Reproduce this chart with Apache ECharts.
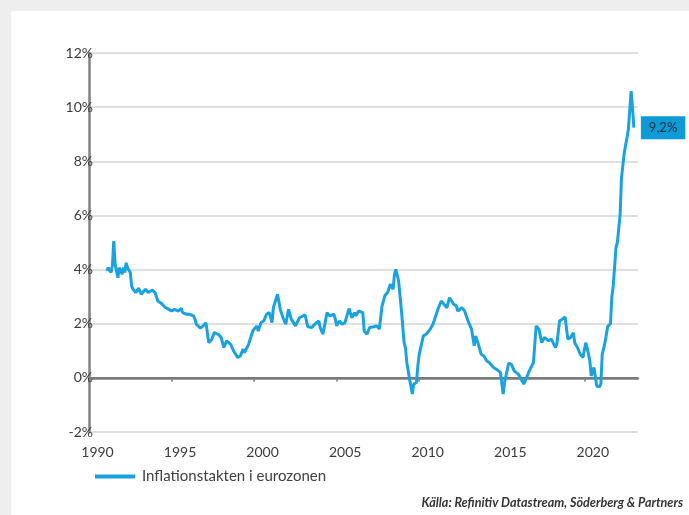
<!DOCTYPE html>
<html>
<head>
<meta charset="utf-8">
<script src="https://cdn.jsdelivr.net/npm/echarts@6/dist/echarts.min.js"></script>
<style>html,body{margin:0;padding:0;background:#efeeee;}#c{width:689px;height:515px;}</style>
</head>
<body>
<div id="c"></div>
<script>
const dates = ["1991-01","1991-02","1991-04","1991-05","1991-06","1991-07","1991-09","1991-10","1991-12","1992-01","1992-02","1992-03","1992-04","1992-06","1992-07","1992-08","1992-10","1992-12","1993-02","1993-05","1993-07","1993-10","1993-12","1994-02","1994-05","1994-07","1994-10","1994-12","1995-02","1995-05","1995-07","1995-08","1995-11","1996-01","1996-04","1996-05","1996-06","1996-09","1996-11","1997-01","1997-03","1997-05","1997-07","1997-10","1997-12","1998-02","1998-04","1998-07","1998-09","1998-12","1999-02","1999-04","1999-05","1999-08","1999-11","2000-02","2000-03","2000-05","2000-07","2000-09","2000-11","2001-01","2001-02","2001-05","2001-07","2001-09","2001-11","2002-01","2002-03","2002-06","2002-09","2003-01","2003-03","2003-06","2003-08","2003-11","2003-12","2004-02","2004-05","2004-07","2004-10","2004-11","2004-12","2005-02","2005-04","2005-06","2005-09","2005-11","2006-01","2006-02","2006-04","2006-07","2006-08","2006-10","2006-12","2007-03","2007-05","2007-07","2007-09","2007-11","2008-01","2008-03","2008-05","2008-06","2008-07","2008-08","2008-09","2008-11","2009-01","2009-02","2009-03","2009-05","2009-07","2009-08","2009-10","2009-11","2009-12","2010-01","2010-03","2010-05","2010-06","2010-08","2010-10","2010-12","2011-02","2011-04","2011-06","2011-08","2011-10","2011-11","2012-01","2012-03","2012-04","2012-07","2012-09","2012-11","2012-12","2013-02","2013-04","2013-05","2013-07","2013-09","2013-11","2014-01","2014-03","2014-06","2014-08","2014-11","2015-01","2015-02","2015-05","2015-07","2015-09","2015-10","2015-12","2016-01","2016-04","2016-06","2016-08","2016-11","2017-01","2017-03","2017-05","2017-07","2017-10","2017-12","2018-03","2018-04","2018-06","2018-08","2018-10","2018-12","2019-02","2019-04","2019-05","2019-07","2019-09","2019-11","2020-01","2020-02","2020-04","2020-05","2020-07","2020-09","2020-11","2020-12","2021-01","2021-02","2021-03","2021-04","2021-05","2021-06","2021-07","2021-08","2021-09","2021-11","2021-12","2022-01","2022-02","2022-03","2022-04","2022-05","2022-06","2022-07","2022-08","2022-09","2022-10","2022-11","2022-12"];
const inflation = [3.95,4.07,3.89,4.15,5.05,4.2,3.7,4.07,3.83,4.07,3.89,4.25,4.07,3.89,3.39,3.27,3.15,3.31,3.09,3.27,3.15,3.24,3.15,2.84,2.74,2.62,2.53,2.47,2.53,2.47,2.57,2.41,2.35,2.35,2.29,2.17,1.98,1.84,1.92,2.04,1.30,1.40,1.67,1.61,1.49,1.12,1.37,1.24,1.00,0.75,0.81,1.06,0.93,1.24,1.73,1.92,1.73,2.04,2.10,2.35,2.41,2.04,2.59,3.09,2.53,2.22,1.98,2.53,2.17,1.92,2.22,2.33,1.89,1.86,1.98,2.10,1.86,1.61,2.41,2.29,2.35,2.17,1.92,2.10,1.98,2.04,2.56,2.22,2.41,2.29,2.47,2.41,1.73,1.61,1.86,1.89,1.92,1.80,2.66,3.03,3.15,3.46,3.27,3.83,4.01,3.80,3.58,2.53,1.30,1.12,0.56,-0.05,-0.60,-0.23,-0.17,0.45,0.87,0.93,1.55,1.61,1.55,1.80,1.98,2.29,2.59,2.84,2.72,2.59,2.96,2.90,2.72,2.66,2.47,2.59,2.47,2.17,2.04,1.80,1.18,1.55,1.24,0.87,0.81,0.63,0.56,0.38,0.32,0.20,-0.60,-0.17,0.54,0.50,0.26,0.32,0.14,0.20,-0.23,0.01,0.26,0.56,1.92,1.80,1.30,1.49,1.37,1.43,1.12,1.24,2.10,2.17,2.25,1.43,1.49,1.67,1.30,1.12,0.87,0.75,1.30,1.12,0.63,0.07,0.38,-0.30,-0.33,-0.23,0.87,0.90,1.30,1.60,1.90,1.90,2.00,3.00,3.40,4.81,5.00,5.06,6.04,7.39,7.45,8.31,8.60,8.87,9.18,9.90,10.59,9.97,9.24];
const yTicks = [-2, 0, 2, 4, 6, 8, 10, 12];
const xTicks = [1990, 1995, 2000, 2005, 2010, 2015, 2020];
const seriesName = "Inflationstakten i eurozonen";
const sourceText = "Källa: Refinitiv Datastream, Söderberg & Partners";

const points = dates.map((d, i) => {
  const [y, m] = d.split("-").map(Number);
  return [y + m / 12, inflation[i]];
});
const fmt = v => v.toFixed(1).replace(".", ",") + "%";

const chart = echarts.init(document.getElementById("c"), null, {renderer: "canvas"});
const font = "Lato, 'Open Sans', sans-serif";
chart.setOption({
  backgroundColor: "#efeeee",
  animation: false,
  textStyle: {fontFamily: font},
  graphic: [
    {type: "rect", left: 11, top: 11, shape: {width: 678, height: 504}, style: {fill: "#ffffff"}, z: -10},
    {type: "text", right: 6, top: 496, style: {text: sourceText, font: "italic bold 12.6px " + font, fill: "#333333"}}
  ],
  grid: {left: 89, right: 51, top: 53, bottom: 83, containLabel: false},
  legend: {
    left: 95, top: 469, padding: 0, icon: "rect", itemWidth: 40, itemHeight: 4,
    textStyle: {fontSize: 15, color: "#404040", fontFamily: font, padding: [0, 0, 0, 2]},
    data: [seriesName]
  },
  xAxis: {
    type: "value", min: xTicks[0], max: 2023.25, interval: 5,
    axisLine: {show: true, lineStyle: {color: "#808080", width: 2.5}},
    axisTick: {show: true, length: 4, lineStyle: {color: "#808080", width: 1.5}},
    splitLine: {show: false},
    axisLabel: {
      showMaxLabel: false, margin: 13, fontSize: 14, color: "#3a3a3a", fontFamily: font,
      padding: [0, 0, 0, 17],
      formatter: v => xTicks.includes(Math.round(v)) ? String(Math.round(v)) : ""
    }
  },
  yAxis: {
    type: "value", min: yTicks[0], max: yTicks[yTicks.length - 1], interval: 2,
    axisLine: {show: true, lineStyle: {color: "#808080", width: 2.5}},
    axisTick: {show: false},
    splitLine: {show: true, lineStyle: {color: "#d4d4d4", width: 1.5}},
    axisLabel: {
      margin: -4, fontSize: 14, color: "#3a3a3a", fontFamily: font,
      padding: [10, 0, 0, 0],
      formatter: v => v + "%"
    }
  },
  series: [{
    name: seriesName, type: "line", data: points, showSymbol: false, symbol: "none",
    color: "#1aa2df",
    lineStyle: {width: 3, color: "#1aa2df"},
    endLabel: {
      show: true, distance: 7, formatter: p => fmt(p.value[1]),
      backgroundColor: "#0d9bd8", color: "#1f2d3a", fontSize: 13, fontFamily: font,
      padding: [5, 8, 5, 8]
    },
    markLine: {
      silent: true, symbol: "none", label: {show: false},
      lineStyle: {color: "#7a7a7a", width: 2, type: "solid"},
      data: [{yAxis: 0}]
    },
    z: 5
  }]
});
</script>
</body>
</html>
